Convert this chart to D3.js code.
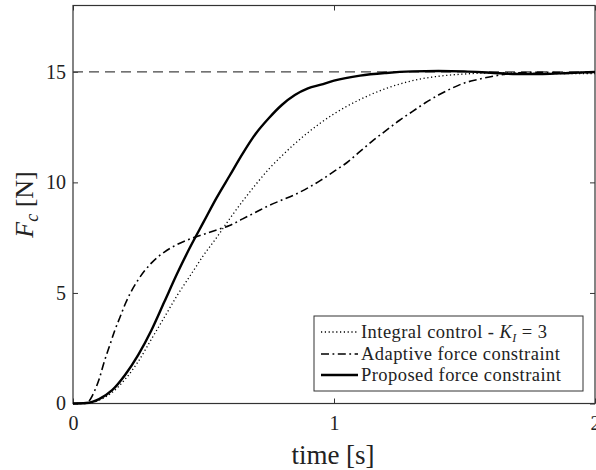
<!DOCTYPE html>
<html>
<head>
<meta charset="utf-8">
<script src="https://cdn.jsdelivr.net/npm/d3@7"></script>
<style>
  html, body { margin: 0; padding: 0; background: #fff; }
  svg { display: block; }
  text { font-family: "Liberation Serif", "Tinos", "Times New Roman", "DejaVu Serif", "Noto Serif", serif; fill: #222; }
</style>
</head>
<body>
<svg id="chart" width="596" height="470"></svg>
<script>
// ---- data ----
const timeProposed = [0, 0.05, 0.1, 0.15, 0.2, 0.25, 0.3, 0.35, 0.4, 0.45, 0.5, 0.55, 0.6, 0.65, 0.7, 0.75, 0.8, 0.85, 0.9, 0.95, 1.0, 1.1, 1.2, 1.3, 1.4, 1.5, 1.6, 1.7, 1.8, 1.9, 2.0];
const forceProposed = [0, 0.02, 0.2, 0.6, 1.3, 2.2, 3.3, 4.6, 5.9, 7.1, 8.2, 9.3, 10.3, 11.3, 12.2, 12.9, 13.5, 13.95, 14.25, 14.42, 14.6, 14.83, 14.95, 15.02, 15.04, 15.02, 14.96, 14.9, 14.9, 14.95, 15.0];

const timeIntegral = [0, 0.05, 0.1, 0.15, 0.2, 0.25, 0.3, 0.35, 0.4, 0.45, 0.5, 0.55, 0.6, 0.65, 0.7, 0.75, 0.8, 0.85, 0.9, 0.95, 1.0, 1.1, 1.2, 1.3, 1.4, 1.5, 1.6, 1.7, 1.8, 1.9, 2.0];
const forceIntegral = [0, 0, 0.15, 0.5, 1.1, 1.9, 2.9, 3.9, 4.9, 5.8, 6.7, 7.5, 8.35, 9.15, 9.9, 10.6, 11.2, 11.75, 12.25, 12.7, 13.1, 13.75, 14.25, 14.6, 14.8, 14.9, 14.95, 14.95, 14.93, 14.92, 14.92];

const timeAdaptive = [0, 0.04, 0.06, 0.08, 0.1, 0.12, 0.14, 0.16, 0.18, 0.2, 0.22, 0.25, 0.3, 0.35, 0.4, 0.45, 0.5, 0.55, 0.6, 0.65, 0.7, 0.75, 0.8, 0.85, 0.9, 0.95, 1.0, 1.05, 1.1, 1.15, 1.2, 1.25, 1.3, 1.35, 1.4, 1.45, 1.5, 1.55, 1.6, 1.65, 1.7, 1.8, 1.9, 2.0];
const forceAdaptive = [0, 0, 0.1, 0.5, 1.1, 1.9, 2.6, 3.3, 3.9, 4.5, 5.0, 5.6, 6.35, 6.85, 7.2, 7.45, 7.65, 7.85, 8.05, 8.35, 8.65, 8.95, 9.2, 9.45, 9.75, 10.1, 10.5, 10.9, 11.4, 11.9, 12.35, 12.8, 13.2, 13.6, 13.95, 14.25, 14.5, 14.65, 14.78, 14.88, 14.95, 14.98, 14.96, 14.97];

const referenceForce = 15;
const xTicks = [0, 1, 2];
const yTicks = [0, 5, 10, 15];
const legendLabels = ["Integral control - ", "Adaptive force constraint", "Proposed force constraint"];

// ---- layout ----
const FONT = '"Liberation Serif", "Tinos", "Times New Roman", "DejaVu Serif", "Noto Serif", serif';
const svg = d3.select("#chart");
const L = 73, R = 595, T = 5.5, B = 403.5;
const x = d3.scaleLinear().domain([0, 2]).range([L, R]);
const y = d3.scaleLinear().domain([0, 18]).range([B, T]);

// axes (ticks inward)
const gx = svg.append("g").attr("transform", `translate(0,${B})`)
  .call(d3.axisBottom(x).tickValues(xTicks).tickFormat(d3.format("d")).tickSizeInner(-5).tickSizeOuter(0).tickPadding(12));
const gy = svg.append("g").attr("transform", `translate(${L},0)`)
  .call(d3.axisLeft(y).tickValues(yTicks).tickFormat(d3.format("d")).tickSizeInner(-5).tickSizeOuter(0).tickPadding(7));
const gxt = svg.append("g").attr("transform", `translate(0,${T})`)
  .call(d3.axisTop(x).tickValues(xTicks).tickFormat("").tickSizeInner(-5).tickSizeOuter(0));
const gyr = svg.append("g").attr("transform", `translate(${R},0)`)
  .call(d3.axisRight(y).tickValues(yTicks).tickFormat("").tickSizeInner(-5).tickSizeOuter(0));
[gx, gy, gxt, gyr].forEach(g => {
  g.attr("font-family", FONT);
  g.select(".domain").remove();
  g.selectAll(".tick line").attr("stroke", "#333").attr("stroke-width", 1);
  g.selectAll(".tick text").style("font-family", FONT).style("font-size", "20px").attr("fill", "#333");
});
gx.selectAll(".tick text").attr("dy", "0.71em");

// frame
svg.append("rect").attr("x", L).attr("y", T).attr("width", R - L).attr("height", B - T)
  .attr("fill", "none").attr("stroke", "#333").attr("stroke-width", 1.2);

// reference dashed line
svg.append("line")
  .attr("x1", x(0)).attr("x2", x(2)).attr("y1", y(referenceForce)).attr("y2", y(referenceForce))
  .attr("stroke", "#444").attr("stroke-width", 1.3).attr("stroke-dasharray", "10,6");

const line = d3.line().x(d => x(d[0])).y(d => y(d[1])).curve(d3.curveMonotoneX);
const zip = (a, b) => a.map((v, i) => [v, b[i]]);

const series = [
  { t: timeIntegral, f: forceIntegral, dash: "1.2,2.6", w: 1.3 },
  { t: timeAdaptive, f: forceAdaptive, dash: "8,3.5,1.8,3.5", w: 1.6 },
  { t: timeProposed, f: forceProposed, dash: null, w: 2.4 }
];
series.forEach(s => {
  svg.append("path").datum(zip(s.t, s.f)).attr("d", line)
    .attr("fill", "none").attr("stroke", "#000").attr("stroke-width", s.w)
    .attr("stroke-dasharray", s.dash);
});

// axis labels
svg.append("text").attr("x", (L + R) / 2 - 1).attr("y", 464).attr("text-anchor", "middle")
  .style("font-size", "27px").text("time [s]");
const yl = svg.append("text").attr("transform", `translate(33,${(T + B) / 2}) rotate(-90)`)
  .attr("text-anchor", "middle").style("font-size", "26px");
yl.append("tspan").style("font-style", "italic").text("F");
yl.append("tspan").style("font-style", "italic").style("font-size", "18px").attr("dy", "5").text("c");
yl.append("tspan").attr("dy", "-5").text(" [N]");

// legend
const lg = svg.append("g");
lg.append("rect").attr("x", 314).attr("y", 316).attr("width", 269).attr("height", 75)
  .attr("fill", "#fff").attr("stroke", "#333").attr("stroke-width", 1);
const rowsY = [332, 354, 375];
series.forEach((s, i) => {
  lg.append("line").attr("x1", 321).attr("x2", 358).attr("y1", rowsY[i]).attr("y2", rowsY[i])
    .attr("stroke", "#000").attr("stroke-width", s.w).attr("stroke-dasharray", s.dash);
  const t = lg.append("text").attr("x", 361).attr("y", rowsY[i] + 6)
    .style("font-size", "18.5px").style("letter-spacing", "0.45px");
  t.append("tspan").text(legendLabels[i]);
  if (i === 0) {
    t.append("tspan").style("font-style", "italic").text("K");
    t.append("tspan").style("font-style", "italic").style("font-size", "12px").attr("dy", "4").text("I");
    t.append("tspan").attr("dy", "-4").text(" = 3");
  }
});
</script>
</body>
</html>
